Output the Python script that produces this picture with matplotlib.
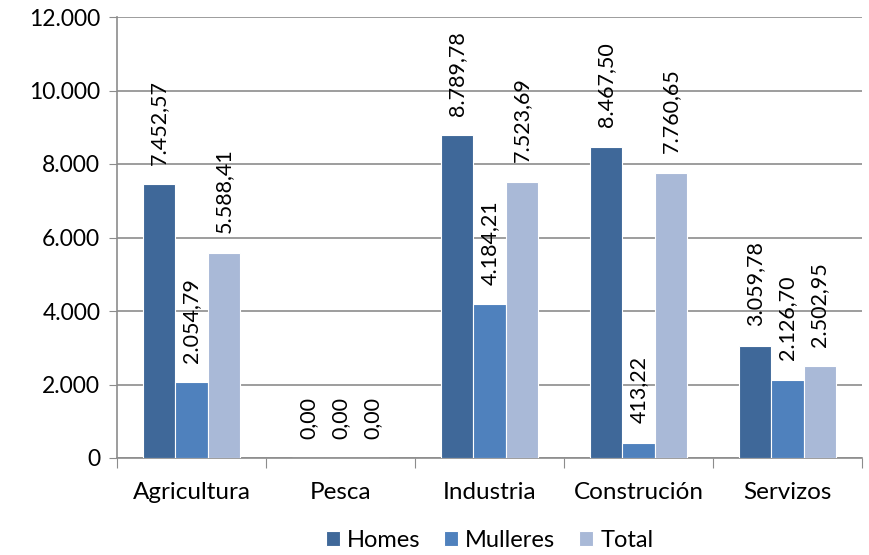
import numpy as np
import matplotlib.pyplot as plt

plt.rcParams['font.family'] = ['Lato', 'DejaVu Sans']

categories = ['Agricultura', 'Pesca', 'Industria', 'Construción', 'Servizos']
homes = [7452.57, 0.00, 8789.78, 8467.50, 3059.78]
mulleres = [2054.79, 0.00, 4184.21, 413.22, 2126.70]
total = [5588.41, 0.00, 7523.69, 7760.65, 2502.95]

series = [('Homes', homes, '#3F6899'),
          ('Mulleres', mulleres, '#4F81BD'),
          ('Total', total, '#A9B9D7')]

FS = 16.5


def fmt(v):
    s = f'{v:,.2f}'
    return s.replace(',', 'X').replace('.', ',').replace('X', '.')


fig = plt.figure(figsize=(8.69, 5.55), dpi=100)
ax = fig.add_axes([117 / 869, (555 - 458) / 555, 745 / 869, 441 / 555])

x = np.arange(len(categories))
w = 0.215
for i, (name, vals, col) in enumerate(series):
    pos = x + (i - 1) * w
    bars = ax.bar(pos, vals, w, color=col, edgecolor='white', linewidth=0.8,
                  label=name, zorder=3)
    for b, v in zip(bars, vals):
        ax.annotate(fmt(v), (b.get_x() + b.get_width() / 2, v),
                    xytext=(0, 14), textcoords='offset points',
                    rotation=90, ha='center', va='bottom', fontsize=15.5)

ax.set_xlim(-0.5, len(categories) - 0.5)
ax.set_ylim(0, 12000)
ax.set_yticks(np.arange(0, 12001, 2000))
ax.set_yticklabels([fmt(v)[:-3] for v in np.arange(0, 12001, 2000)], fontsize=FS)
ax.yaxis.grid(True, color='#8C8C8C', linewidth=1.2, zorder=0)
ax.tick_params(axis='y', length=6, color='#8C8C8C', pad=6)

ax.set_xticks(np.arange(-0.5, len(categories), 1.0), minor=False)
ax.set_xticklabels([])
ax.set_xticks(x, minor=True)
ax.set_xticklabels(categories, minor=True, fontsize=17.5)
ax.tick_params(axis='x', which='major', length=7, color='#8C8C8C', direction='out')
ax.tick_params(axis='x', which='minor', length=0, pad=17)

for s in ['top', 'right']:
    ax.spines[s].set_visible(False)
for s in ['left', 'bottom']:
    ax.spines[s].set_color('#8C8C8C')
    ax.spines[s].set_linewidth(1.2)

ax.legend(loc='center', bbox_to_anchor=(0.5, -0.186), ncol=3, frameon=False,
          fontsize=17, handlelength=0.6, handleheight=0.6, handletextpad=0.3,
          columnspacing=1.0, borderpad=0.1)

fig.savefig('out.png', dpi=100)
